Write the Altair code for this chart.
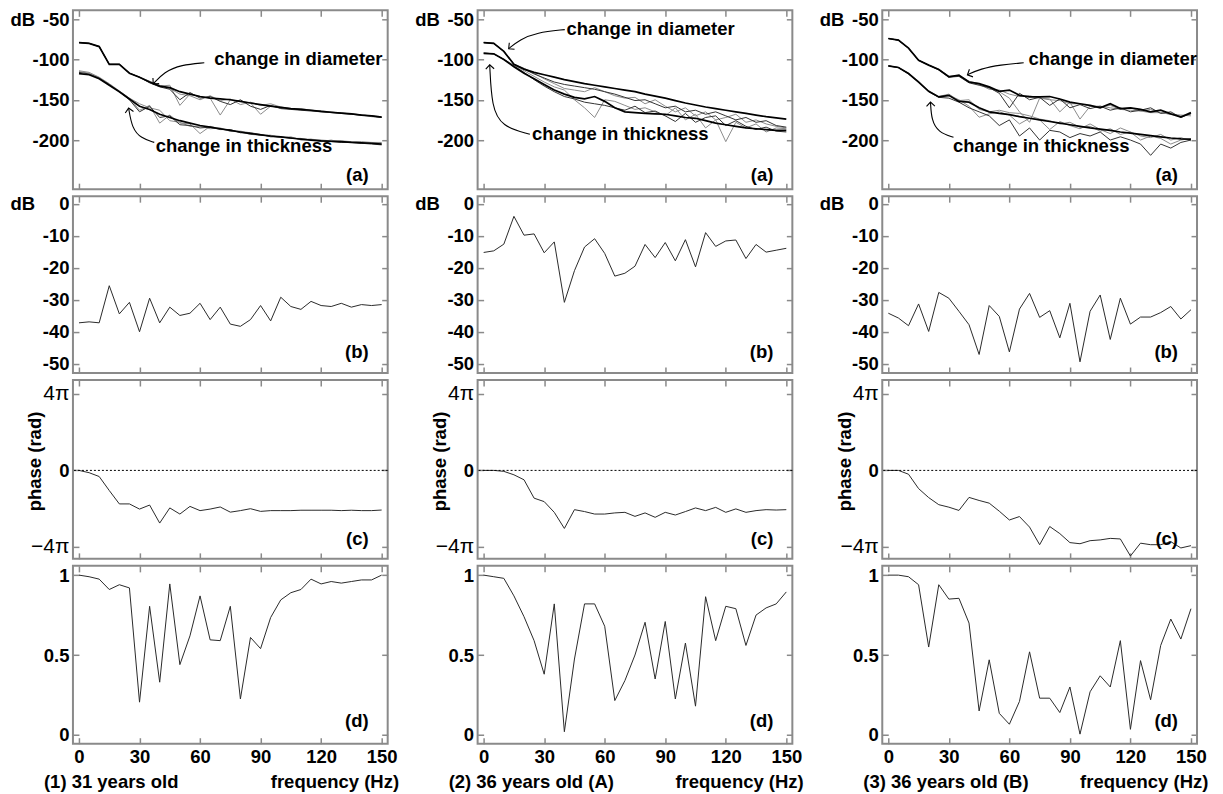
import altair as alt
import pandas as pd

FREQ = [0, 5, 10, 15, 20, 25, 30, 35, 40, 45, 50, 55, 60, 65, 70, 75, 80, 85, 90, 95,
        100, 105, 110, 115, 120, 125, 130, 135, 140, 145, 150]

# ---------- column 1 : 31 years old ----------
C1_DIAM_MAIN = [-79, -80, -84, -106, -106, -117, -122, -128, -133, -135, -140, -143, -146, -148, -149, -150,
                -152, -154, -156, -158, -159.5, -161, -162, -163, -164.5, -165.5, -166.5, -167.5, -169, -170, -171.5]
C1_DIAM_V1 = [-79, -80, -84, -106, -106, -117, -122, -128, -133, -132, -157, -143, -146, -148, -169, -150,
              -152, -154, -168, -158, -160, -161, -162, -163, -164, -166, -166, -168, -169, -170, -171]
C1_DIAM_V2 = [-79, -80, -84, -106, -106, -117, -122, -129, -134, -137, -150, -141, -148, -146, -152, -156,
              -150, -158, -162, -157, -161, -162, -163, -164, -165, -166, -167, -168, -169, -170, -172]
C1_DIAM_V3 = [-79, -80, -84, -106, -106, -117, -122, -127, -132, -136, -143, -145, -150, -145, -151, -149,
              -156, -153, -157, -155, -159, -161, -161, -163, -164, -165, -167, -167, -169, -171, -172]
C1_THICK_MAIN = [-117.5, -119, -124, -132, -140, -149, -158, -162, -168, -172, -176, -179, -182, -184, -186, -188,
                 -190, -192, -193.5, -195, -196, -197.5, -199, -200, -201, -201.5, -202, -203, -203.5, -204, -205]
C1_THICK_V1 = [-114, -116, -122, -130, -139, -148, -163, -157, -179, -169, -179, -180, -192, -183, -186, -189,
               -190, -193, -194, -195, -197, -197, -199, -199, -200, -201, -201, -202, -202, -203, -203]
C1_THICK_V2 = [-116, -118, -123, -131, -140, -150, -165, -158, -172, -170, -181, -182, -185, -184, -187, -187,
               -191, -191, -193, -196, -196, -198, -198, -200, -201, -202, -203, -203, -204, -205, -206]
C1_THICK_V3 = [-115, -117, -123, -131, -140, -148, -155, -160, -163, -176, -178, -183, -183, -186, -185, -189,
               -189, -191, -194, -194, -197, -196, -200, -199, -202, -200, -203, -202, -204, -203, -204]
C1_B = [-37.2, -36.9, -37.2, -25.6, -34.4, -30.8, -40, -29.5, -37.2, -32.3, -34.9, -34.2, -31.1, -36.2, -32.3,
        -37.6, -38.3, -36.2, -31.8, -36.6, -29.2, -32.1, -33, -30.5, -31.8, -32.1, -31.1, -32.3, -31.5, -31.8, -31.5]
C1_C = [0, -0.12, -0.32, -1.05, -1.75, -1.75, -2.02, -1.81, -2.75, -1.96, -2.28, -1.88, -2.1, -2.02, -1.91,
        -2.18, -2.1, -2.0, -2.14, -2.1, -2.1, -2.1, -2.08, -2.08, -2.08, -2.08, -2.1, -2.08, -2.1, -2.1, -2.07]
C1_D = [1.0, 0.99, 0.975, 0.91, 0.94, 0.92, 0.205, 0.805, 0.33, 0.945, 0.44, 0.62, 0.87, 0.595, 0.59, 0.805,
        0.225, 0.61, 0.54, 0.735, 0.845, 0.89, 0.91, 0.975, 0.945, 0.96, 0.95, 0.96, 0.97, 0.97, 1.0]

# ---------- column 2 : 36 years old (A) ----------
C2_DIAM_MAIN = [-79, -80, -90, -106, -112, -116, -119, -122, -125, -127.5, -130, -132, -134, -136, -138, -140,
                -143, -145.5, -148, -151, -154, -156.5, -159, -161, -163, -165, -167, -169, -171, -172.5, -174]
C2_DIAM_V1 = [-79, -80, -90, -106, -111, -117, -124, -130, -136, -138, -140, -135, -140, -145, -148, -147,
              -155, -150, -158, -165, -160, -170, -165, -175, -172, -168, -178, -175, -180, -183, -185]
C2_DIAM_V2 = [-79, -80, -90, -106, -112, -118, -123, -128, -131, -133, -135, -137, -140, -143, -147, -151,
              -150, -155, -160, -158, -165, -163, -168, -165, -170, -175, -172, -178, -176, -182, -184]
C2_THICK_MAIN = [-92.5, -93, -100, -109, -117, -124, -131, -138, -143, -147, -149, -146, -152, -160, -165, -166,
                 -167, -167.5, -168, -170, -172, -173, -176, -179, -181, -183, -185, -186, -187, -188, -188]
C2_THICK_V1 = [-92, -93, -100, -107, -114, -121, -128, -134, -138, -150, -160, -172, -150, -152, -157, -162,
               -160, -165, -170, -160, -175, -168, -185, -175, -202, -178, -185, -180, -190, -185, -186]
C2_THICK_V2 = [-92, -93, -100, -108, -116, -125, -133, -140, -146, -149, -153, -155, -157, -160, -163, -158,
               -166, -164, -170, -177, -167, -178, -172, -170, -182, -176, -183, -187, -184, -189, -190]
C2_B = [-15.2, -14.7, -12.6, -3.9, -9.8, -9.4, -15.3, -11.9, -30.8, -20.9, -13.5, -10.9, -15.5, -22.6, -21.7,
        -19.5, -12.7, -16.8, -12.1, -17.8, -11.2, -19.7, -9.0, -13.3, -11.6, -11.3, -17.1, -12.7, -15.1, -14.5, -13.9]
C2_C = [0, 0, -0.05, -0.23, -0.49, -1.45, -1.63, -2.19, -3.03, -2.05, -2.15, -2.28, -2.28, -2.22, -2.19, -2.4,
        -2.22, -2.45, -2.19, -2.33, -2.15, -1.96, -2.1, -1.93, -2.19, -2.01, -2.19, -2.1, -2.05, -2.07, -2.05]
C2_D = [1.0, 0.99, 0.98, 0.87, 0.74, 0.59, 0.38, 0.82, 0.02, 0.475, 0.82, 0.82, 0.68, 0.215, 0.34, 0.5,
        0.705, 0.35, 0.71, 0.225, 0.575, 0.18, 0.865, 0.59, 0.805, 0.79, 0.56, 0.75, 0.795, 0.82, 0.895]

# ---------- column 3 : 36 years old (B) ----------
C3_DIAM_MAIN = [-74, -76, -86, -101, -107, -112.5, -121.5, -119.5, -128, -130, -134, -139.5, -138, -144.5, -146.5,
                -146.5, -146, -149, -153, -155, -157, -160, -155, -161, -160, -162, -165, -163, -167.5, -171.5, -166]
C3_DIAM_V1 = [-74, -76, -86, -101, -107, -112.5, -121, -120, -127, -130, -136, -140, -148, -165, -178, -148,
              -149, -165, -153, -174, -158, -159, -157, -162, -160, -164, -162, -166, -168, -170, -168]
C3_DIAM_V2 = [-74, -76, -86, -101, -107, -113, -122, -121, -129, -132, -135, -142, -160, -142, -150, -147,
              -157, -149, -160, -156, -161, -158, -163, -160, -165, -163, -160, -167, -165, -172, -167]
C3_DIAM_V3 = [-74, -76, -86, -101, -107, -112, -121, -120, -128, -131, -137, -138, -143, -146, -145, -148,
              -150, -151, -155, -155, -158, -158, -160, -162, -163, -164, -166, -166, -168, -169, -170]
C3_THICK_MAIN = [-108, -110, -117.5, -128, -139.5, -146.5, -144.5, -152, -153, -160, -165, -167, -168.5, -171, -173,
                 -175, -177, -179, -181, -183, -185, -186.5, -188, -190, -191.5, -193, -194.5, -196, -197.5, -198.5, -199]
C3_THICK_V1 = [-108, -110, -117.5, -128, -139.5, -146.5, -145, -150, -158, -171.7, -167.5, -165, -169, -180, -173,
               -175, -187, -177, -182, -186, -180, -187, -192, -185, -190, -200, -195, -198, -205, -200, -198]
C3_THICK_V2 = [-108, -110, -118, -128, -140, -147, -148, -153, -160, -165, -170, -182, -175, -195, -185, -200,
               -188, -190, -197, -192, -195, -190, -200, -196, -200, -205, -219, -205, -210, -203, -200]
C3_THICK_V3 = [-108, -110, -117, -127, -139, -146, -143, -151, -150, -162, -165, -163, -166, -167, -170, -174,
               -176, -180, -178, -184, -183, -189, -186, -193, -190, -195, -197, -193, -200, -197, -201]
C3_B = [-34.2, -35.7, -38.1, -31.3, -39.9, -27.7, -29.5, -33.6, -37.8, -47.1, -31.8, -35.2, -46.3, -32.9, -28.0,
        -35.5, -33.4, -41.9, -31.1, -49.4, -33.6, -28.5, -42.4, -29.5, -37.6, -35.4, -35.4, -34.0, -32.1, -36.0, -33.1]
C3_C = [0, 0, -0.2, -0.95, -1.42, -1.79, -1.92, -2.09, -1.41, -1.57, -1.71, -2.13, -2.59, -2.41, -2.96, -3.88,
        -2.93, -3.3, -3.77, -3.83, -3.67, -3.63, -3.55, -3.58, -4.47, -3.8, -3.88, -3.88, -3.72, -4.05, -3.93]
C3_D = [1.0, 1.0, 0.99, 0.94, 0.55, 0.94, 0.85, 0.855, 0.7, 0.15, 0.47, 0.135, 0.067, 0.21, 0.52, 0.23,
        0.23, 0.14, 0.3, 0.005, 0.27, 0.37, 0.3, 0.59, 0.035, 0.465, 0.22, 0.56, 0.725, 0.6, 0.79]

# annotations (frequency Hz, dB)
ANN_TEXT = ["change in diameter", "change in thickness"]
ANN_POS = [[(67, -100), (38, -207)], [(41, -61.6), (24, -193)], [(69.5, -100), (32, -207)]]
ARROWS = [
    [[(62.1, -104.1), (50.7, -106.6), (42.2, -115.4), (36.8, -130.4)],
     [(37.3, -202.9), (30.8, -197.9), (26.3, -185.4), (24.6, -160.4)]],
    [[(40.2, -62.9), (26.3, -66.6), (17.9, -75.4), (12.4, -86.6)],
     [(22.9, -192.9), (8.9, -183.0), (4.0, -159.1), (3.0, -106.6)]],
    [[(67.1, -104.1), (55.6, -106.6), (45.7, -111.6), (39.2, -119.1)],
     [(32.3, -196.6), (24.8, -190.4), (21.4, -175.4), (20.9, -152.9)]],
]
ARROW_ANGLE = [[222, 350], [231, 357], [245, 357]]

CAPTIONS = ["(1) 31 years old", "(2) 36 years old (A)", "(3) 36 years old (B)"]
XLABEL = "frequency (Hz)"
XTICKS = [0, 30, 60, 90, 120, 150]

COLS = [
    dict(dm=C1_DIAM_MAIN, dv=[C1_DIAM_V1, C1_DIAM_V2, C1_DIAM_V3], tm=C1_THICK_MAIN,
         tv=[C1_THICK_V1, C1_THICK_V2, C1_THICK_V3], b=C1_B, c=C1_C, d=C1_D),
    dict(dm=C2_DIAM_MAIN, dv=[C2_DIAM_V1, C2_DIAM_V2], tm=C2_THICK_MAIN,
         tv=[C2_THICK_V1, C2_THICK_V2], b=C2_B, c=C2_C, d=C2_D),
    dict(dm=C3_DIAM_MAIN, dv=[C3_DIAM_V1, C3_DIAM_V2, C3_DIAM_V3], tm=C3_THICK_MAIN,
         tv=[C3_THICK_V1, C3_THICK_V2, C3_THICK_V3], b=C3_B, c=C3_C, d=C3_D),
]

FONT = "Liberation Sans, Arial, sans-serif"
FS = 18.5
W = 315
HEIGHT = {"a": 179, "b": 177, "c": 179, "d": 178}
LETTER_DY = {"a": 14, "b": 21, "c": 20, "d": 23}
XDOM = [-3, 153]
YDOM = {"a": [-261, -39], "b": [-52.9, 2.4], "c": [-4.62, 4.72], "d": [-0.055, 1.058]}
YVALS = {"a": [-200, -150, -100, -50], "b": [-50, -40, -30, -20, -10, 0], "c": [-4, 0, 4], "d": [0, 0.5, 1]}
FRAME = "#8a8a8a"


def long_df(series):
    rows = []
    for name, vals in series:
        for f, v in zip(FREQ, vals):
            rows.append({"f": f, "v": v, "s": name})
    return pd.DataFrame(rows)


def xscale():
    return alt.Scale(domain=XDOM, nice=False, zero=False)


def txt(**kw):
    base = dict(font=FONT, fontSize=FS, fontWeight="bold", color="black")
    base.update(kw)
    return base


def panel(row, col, line_specs, extra):
    H = HEIGHT[row]
    ysc = alt.Scale(domain=YDOM[row], nice=False, zero=False)
    xax = alt.Axis(orient="bottom", values=XTICKS, labels=(row == "d"), offset=-6, tickSize=6,
                   labelPadding=4, title=None, labelFlush=False)
    ykw = dict(orient="left", values=YVALS[row], offset=-6, tickSize=6, labelPadding=4)
    if row in ("a", "b"):
        ykw.update(labelExpr="toString(datum.value)", title="dB", titleAngle=0, titleAlign="left",
                   titleBaseline="middle", titleX=-69,
                   titleY=(YDOM[row][1] - YVALS[row][-1]) / (YDOM[row][1] - YDOM[row][0]) * H)
    elif row == "c":
        ykw.update(labelExpr="datum.value == 0 ? '0' : (datum.value > 0 ? '4π' : '−4π')",
                   labelFontWeight={"condition": {"test": "datum.value == 0", "value": "bold"},
                                    "value": "normal"},
                   labelFontSize={"condition": {"test": "datum.value == 0", "value": FS},
                                  "value": 21},
                   title="phase (rad)", titleAngle=270, titleAlign="center", titleBaseline="middle",
                   titleX=-44, titleY=81)
    else:
        ykw.update(format="~g", title=None)
    yax = alt.Axis(**ykw)

    layers = []
    for i, (df, mk) in enumerate(line_specs):
        layers.append(alt.Chart(df).mark_line(**mk).encode(
            x=alt.X("f:Q", scale=xscale(), axis=xax if i == 0 else None),
            y=alt.Y("v:Q", scale=ysc, axis=yax if i == 0 else None),
            detail="s:N"))
    # mirrored ticks (top / right)
    layers.append(alt.Chart(line_specs[0][0]).mark_line(opacity=0).encode(
        x=alt.X("f:Q", scale=xscale(), axis=alt.Axis(orient="top", values=XTICKS, labels=False, offset=-6,
                                                      tickSize=6, title=None)),
        y=alt.Y("v:Q", scale=ysc, axis=alt.Axis(orient="right", values=YVALS[row], labels=False, offset=-6,
                                                 tickSize=6, title=None)),
        detail="s:N"))
    for e in extra:
        layers.append(e(ysc))
    layers.append(alt.Chart(pd.DataFrame({"t": ["(" + row + ")"]})).mark_text(
        **txt(align="right", baseline="middle")).encode(
        text="t:N", x=alt.value(W - 19), y=alt.value(H - LETTER_DY[row])))
    if row == "d":
        layers.append(alt.Chart(pd.DataFrame({"t": [CAPTIONS[col]]})).mark_text(
            **txt(align="left", baseline="middle")).encode(
            text="t:N", x=alt.value([-29, -29, -19][col]), y=alt.value(H + 38)))
        layers.append(alt.Chart(pd.DataFrame({"t": [XLABEL]})).mark_text(
            **txt(align="left", baseline="middle")).encode(
            text="t:N", x=alt.value(198), y=alt.value(H + 38)))
    return alt.layer(*layers).resolve_axis(x="independent", y="independent").properties(width=W, height=H)


def column(ci):
    c = COLS[ci]
    thin_gray = []
    thin_black = []
    for k, v in enumerate(c["dv"]):
        (thin_gray if k % 2 == 0 else thin_black).append(("d%d" % k, v))
    for k, v in enumerate(c["tv"]):
        (thin_gray if k % 2 == 0 else thin_black).append(("t%d" % k, v))
    mains = long_df([("dm", c["dm"]), ("tm", c["tm"])])

    ann = pd.DataFrame([{"f": p[0], "v": p[1], "t": t} for p, t in zip(ANN_POS[ci], ANN_TEXT)])
    arr_rows = []
    head_rows = []
    for k, pts in enumerate(ARROWS[ci]):
        for j, (f, v) in enumerate(pts):
            arr_rows.append({"f": f, "v": v, "s": "arr%d" % k, "o": j})
        head_rows.append({"f": pts[-1][0], "v": pts[-1][1], "ang": ARROW_ANGLE[ci][k]})
    arr = pd.DataFrame(arr_rows)
    heads = pd.DataFrame(head_rows)

    def ann_layer(ysc):
        return alt.Chart(ann).mark_text(**txt(align="left", baseline="middle")).encode(
            x=alt.X("f:Q", scale=xscale(), axis=None), y=alt.Y("v:Q", scale=ysc, axis=None), text="t:N")

    def arrow_layer(ysc):
        return alt.Chart(arr).mark_line(color="black", strokeWidth=1.1, interpolate="basis").encode(
            x=alt.X("f:Q", scale=xscale(), axis=None), y=alt.Y("v:Q", scale=ysc, axis=None),
            detail="s:N", order="o:Q")

    def head_layer(ysc):
        return alt.Chart(heads).mark_point(shape="M -1 1 L 0 0 L 1 1", filled=False, size=70,
                                           color="black", strokeWidth=1.1, opacity=1).encode(
            x=alt.X("f:Q", scale=xscale(), axis=None), y=alt.Y("v:Q", scale=ysc, axis=None),
            angle=alt.Angle("ang:Q", scale=None))

    pa = panel("a", ci, [(long_df(thin_gray), dict(color="#8c8c8c", strokeWidth=1)),
                         (long_df(thin_black), dict(color="#333333", strokeWidth=1)),
                         (mains, dict(color="black", strokeWidth=1.7))],
               [arrow_layer, head_layer, ann_layer])
    pb = panel("b", ci, [(long_df([("b", c["b"])]), dict(color="#2a2a2a", strokeWidth=1))], [])

    def zero_rule(ysc):
        return alt.Chart(pd.DataFrame({"v": [0]})).mark_rule(color="black", strokeWidth=1,
                                                             strokeDash=[2, 2]).encode(
            y=alt.Y("v:Q", scale=ysc, axis=None))

    pc = panel("c", ci, [(long_df([("c", c["c"])]), dict(color="#2a2a2a", strokeWidth=1))], [zero_rule])
    pd_ = panel("d", ci, [(long_df([("d", c["d"])]), dict(color="#2a2a2a", strokeWidth=1))], [])
    return [pa, pb, pc, pd_]


cols = [column(i) for i in range(3)]
cells = []
for r in range(4):
    for ci in range(3):
        cells.append(cols[ci][r])

chart = alt.concat(*cells, columns=3, spacing={"row": 7, "column": 90}, bounds="flush").configure_view(
    stroke=FRAME, strokeWidth=2
).configure_axis(
    labelFont=FONT, labelFontSize=FS, labelFontWeight="bold", labelColor="black",
    tickColor=FRAME, tickWidth=1.5, domain=False, grid=False,
    titleFont=FONT, titleFontSize=FS, titleFontWeight="bold", titleColor="black"
).properties(padding={"left": 1, "top": 0, "right": 5, "bottom": 5}, background="white")

chart.save("out.html", embed_options={"renderer": "svg", "actions": False})
